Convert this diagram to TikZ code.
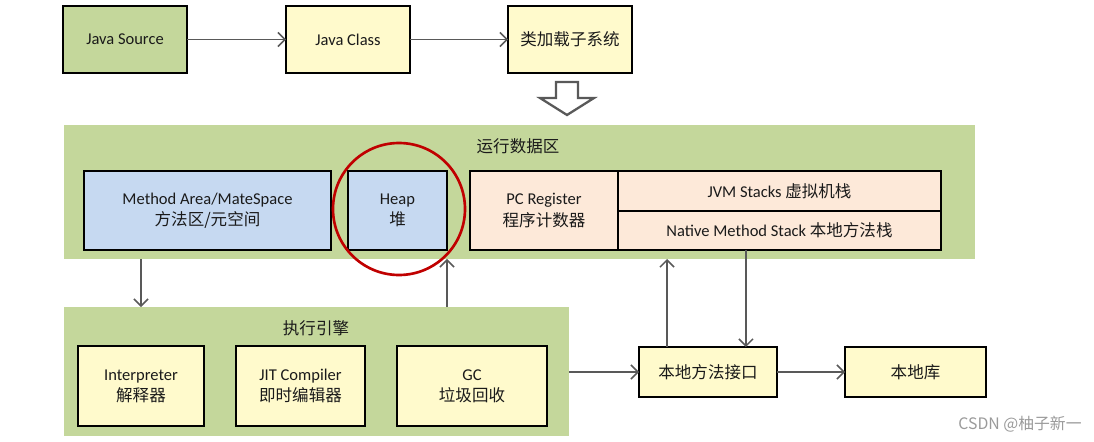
\documentclass[tikz,border=0pt]{standalone}
\usepackage{fontspec}
\setmainfont{Carlito}
\newfontfamily\cjk{Noto Sans CJK SC}
\usepackage{tikz}
\usetikzlibrary{
  arrows.meta,
  positioning,
}

\definecolor{areagreen}{HTML}{C4D79B}
\definecolor{boxyellow}{HTML}{FFFACC}
\definecolor{boxblue}{HTML}{C6D9F1}
\definecolor{boxpeach}{HTML}{FDE9D9}
\definecolor{linegray}{HTML}{595959}
\definecolor{ringred}{HTML}{C00000}
\definecolor{textdark}{HTML}{1A1A1A}
\definecolor{markgray}{HTML}{9A9A9A}

\begin{document}
\begin{tikzpicture}[
  x=0.02cm, y=-0.02cm,
  font=\fontsize{9.4}{12}\selectfont,
  box/.style={draw=black, line width=1.3pt, inner sep=0pt, outer sep=0pt, align=center, text=textdark},
  area/.style={fill=areagreen, inner sep=0pt, outer sep=0pt},
  link/.style={draw=linegray, line width=0.9pt, -{Straight Barb[length=4pt,width=8pt]}},
]
  \useasboundingbox (0,0) rectangle (1094,442);

  % Class loading row
  \node[box, fill=areagreen, minimum width=2.48cm, minimum height=1.34cm] (src) at (125,39.5) {Java Source};
  \node[box, fill=boxyellow, minimum width=2.48cm, minimum height=1.34cm] (cls) at (348,39.5) {Java Class};
  \node[box, fill=boxyellow, minimum width=2.48cm, minimum height=1.34cm] (loader) at (570,39.5) {\cjk 类加载子系统};
  \draw[link] (src) -- (cls);
  \draw[link] (cls) -- (loader);

  % Hollow arrow down
  \draw[linegray, line width=1.3pt, fill=white, line join=miter]
    (556,82) -- (578,82) -- (578,98) -- (594,98) -- (567,115) -- (540,98) -- (556,98) -- cycle;

  % Runtime data area
  \node[area, minimum width=18.22cm, minimum height=2.68cm] (rt) at (519.5,192) {};
  \node[text=textdark] (rtlabel) at (518,146) {\cjk 运行数据区};
  \node[box, fill=boxblue, minimum width=4.94cm, minimum height=1.58cm] (mth) at (207.5,210.5)
    {Method Area/MateSpace\\{\cjk 方法区/元空间}};
  \node[box, fill=boxblue, minimum width=1.98cm, minimum height=1.58cm] (heap) at (397.5,210.5)
    {Heap\\{\cjk 堆}};
  \node[box, fill=boxpeach, minimum width=2.96cm, minimum height=1.58cm] (pc) at (544,210.5)
    {PC Register\\{\cjk 程序计数器}};
  \node[box, fill=boxpeach, minimum width=6.46cm, minimum height=0.8cm, anchor=north west] (jvms) at (618,171)
    {JVM Stacks {\cjk 虚拟机栈}};
  \node[box, fill=boxpeach, minimum width=6.46cm, minimum height=0.78cm, below=0pt of jvms] (native)
    {Native Method Stack {\cjk 本地方法栈}};
  \draw[ringred, line width=1.5pt] (399,209) circle[radius=66];

  % Execution engine
  \node[area, minimum width=10.1cm, minimum height=2.58cm] (exec) at (316.5,371.5) {};
  \node[text=textdark] (execlabel) at (316,328) {\cjk 执行引擎};
  \node[box, fill=boxyellow, minimum width=2.52cm, minimum height=1.6cm] (interp) at (141,386)
    {Interpreter\\{\cjk 解释器}};
  \node[box, fill=boxyellow, minimum width=2.58cm, minimum height=1.6cm] (jit) at (300.5,386)
    {JIT Compiler\\{\cjk 即时编辑器}};
  \node[box, fill=boxyellow, minimum width=3.0cm, minimum height=1.6cm] (gc) at (472,386)
    {GC\\{\cjk 垃圾回收}};

  % Native side
  \node[box, fill=boxyellow, minimum width=2.76cm, minimum height=1.0cm] (jni) at (708,372) {\cjk 本地方法接口};
  \node[box, fill=boxyellow, minimum width=2.82cm, minimum height=1.0cm] (lib) at (915.5,372) {\cjk 本地库};

  % Connectors
  \draw[link] (rt.south -| interp) -- (exec.north -| interp);
  \draw[link] (exec.north -| heap.east) -- (rt.south -| heap.east);
  \draw[link] (exec.east |- jni) -- (jni.west);
  \draw[link] ([xshift=0.56cm]jni.north west) -- ([xshift=0.56cm]jni.north west |- rt.south);
  \draw[link] ([xshift=2.56cm]native.south west) -- ([xshift=2.56cm]native.south west |- jni.north);
  \draw[link] (jni) -- (lib);

  \node[text=markgray, font=\cjk\fontsize{9}{10}\selectfont] (mark) at (1020,424) {CSDN @柚子新一};
\end{tikzpicture}
\end{document}
